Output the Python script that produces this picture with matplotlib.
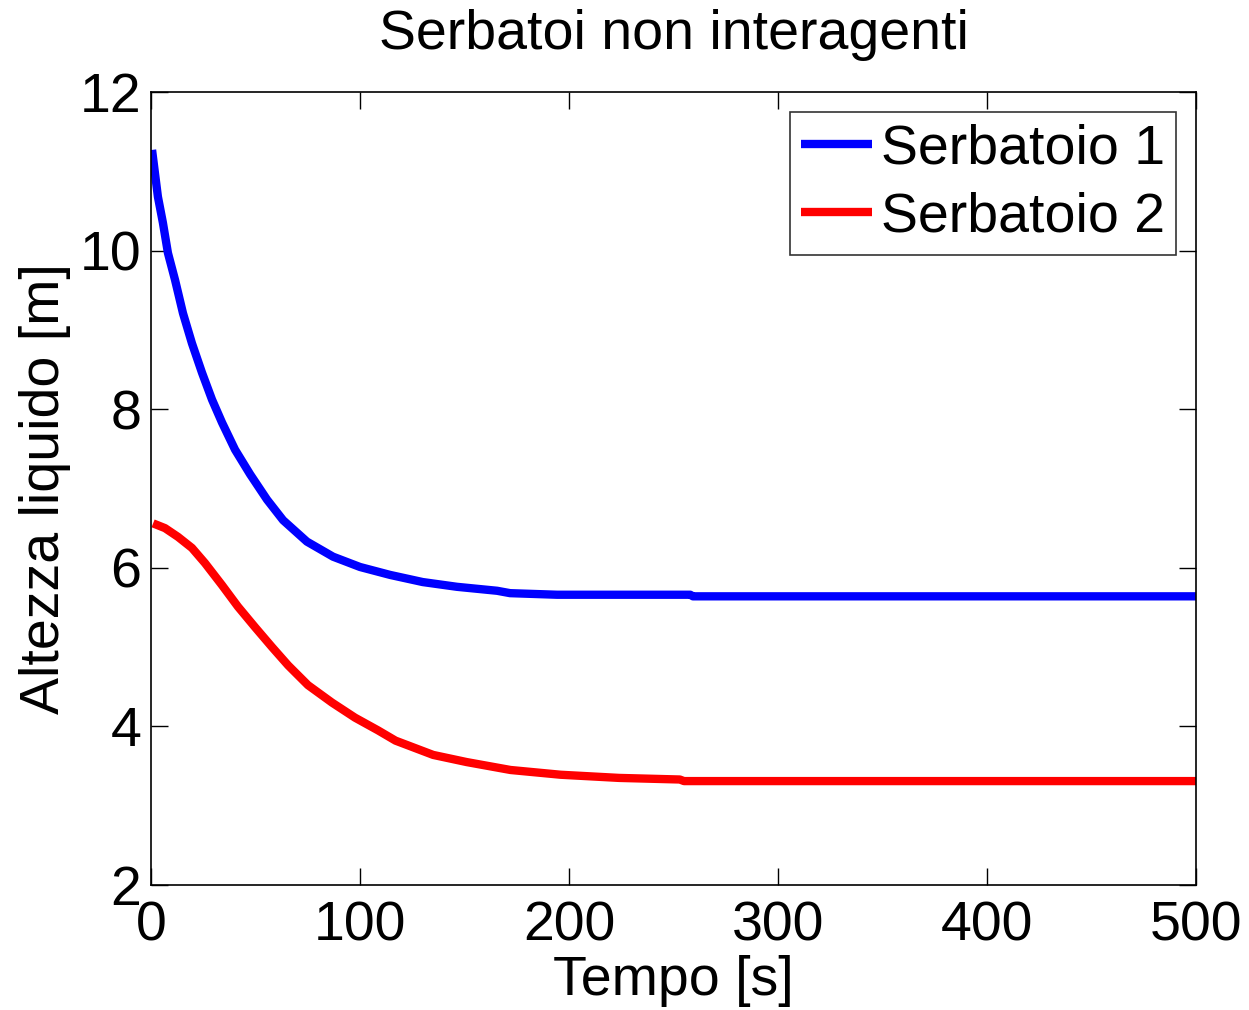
import matplotlib
matplotlib.use("Agg")
import matplotlib.pyplot as plt

t_blue = [0.5, 3.3, 5.7, 8.1, 11.5, 15.3, 19.6, 24.4, 29.2, 34.0, 40.2, 47.4, 55.5, 63.2,
          74.6, 87.1, 100, 114.4, 130, 146.4, 165.6, 171.8, 194.3, 258, 259.3, 500]
h_blue = [11.27, 10.68, 10.35, 9.97, 9.63, 9.21, 8.83, 8.46, 8.12, 7.83, 7.49, 7.18, 6.86, 6.60,
          6.33, 6.14, 6.01, 5.91, 5.82, 5.76, 5.71, 5.68, 5.66, 5.66, 5.64, 5.64]

t_red = [1, 6.7, 12.9, 19.6, 25.8, 34, 41.6, 49.8, 57.9, 65.6, 75.1, 86.6, 97.6, 108.6, 117,
         135, 151, 172, 196, 224, 253, 255, 500]
h_red = [6.56, 6.50, 6.39, 6.25, 6.06, 5.78, 5.51, 5.25, 5.00, 4.77, 4.52, 4.30, 4.11, 3.95, 3.82,
         3.64, 3.55, 3.45, 3.39, 3.35, 3.33, 3.31, 3.31]

title = "Serbatoi non interagenti"
xlabel = "Tempo [s]"
ylabel = "Altezza liquido [m]"
labels = ["Serbatoio 1", "Serbatoio 2"]
xticks = [0, 100, 200, 300, 400, 500]
yticks = [2, 4, 6, 8, 10, 12]

plt.rcParams['font.family'] = ['Liberation Sans', 'DejaVu Sans']

fig = plt.figure(figsize=(12.49, 10.10), dpi=100)
ax = fig.add_axes([0.1209, 0.1238, 0.8367, 0.7851])

ax.plot(t_blue, h_blue, color='#0000ff', lw=6, label=labels[0], solid_capstyle='butt')
ax.plot(t_red, h_red, color='#ff0000', lw=6, label=labels[1], solid_capstyle='butt')

ax.set_xlim(0, 500)
ax.set_ylim(2, 12)
ax.set_xticks(xticks)
ax.set_yticks(yticks)
ax.tick_params(direction='in', length=12, width=1, labelsize=40, top=True, right=True)
ax.tick_params(axis='x', pad=11)
ax.tick_params(axis='y', pad=7)
for s in ax.spines.values():
    s.set_linewidth(1.2)

ax.set_title(title, fontsize=40, pad=31)
ax.set_xlabel(xlabel, fontsize=40, labelpad=2)
ax.set_ylabel(ylabel, fontsize=40, labelpad=6)

leg = ax.legend(loc='upper right', fontsize=40, frameon=True, fancybox=False,
                edgecolor='black', handlelength=1.28, handletextpad=0.16,
                borderaxespad=0.36, borderpad=0.2, labelspacing=0.3)
leg.get_frame().set_linewidth(1.2)

fig.savefig("out.png", dpi=100, facecolor='white')
